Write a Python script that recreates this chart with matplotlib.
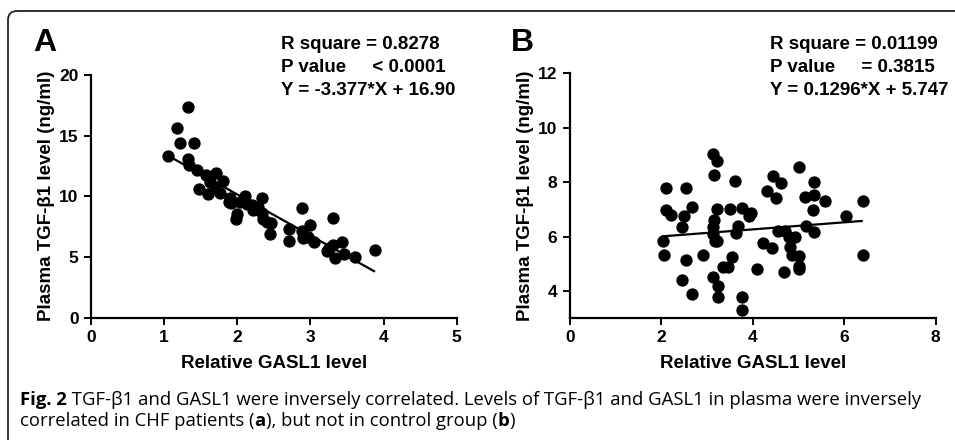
import numpy as np
import matplotlib
matplotlib.use("Agg")
from matplotlib import pyplot as plt
from matplotlib import font_manager
from matplotlib.patches import FancyBboxPatch
from matplotlib.transforms import IdentityTransform

# panel A: CHF patients
a_x = [1.32, 1.17, 1.216, 1.407, 1.052, 1.32, 1.338, 1.453, 1.571, 1.708,
       1.626, 1.808, 1.694, 1.48, 1.603, 1.762, 1.899, 2.104, 1.908, 2.036,
       2.34, 2.195, 2.218, 2.0, 1.977, 2.332, 2.355, 2.459, 2.445, 2.286,
       2.887, 2.71, 2.71, 2.992, 2.887, 2.90, 3.046, 2.968, 3.302, 3.434,
       3.31, 3.229, 3.333, 3.456, 3.607, 3.88, 3.26, 1.88, 2.13, 2.4]
a_y = [17.31, 15.59, 14.41, 14.41, 13.31, 13.03, 12.57, 12.16, 11.74, 11.88,
       11.2, 11.25, 10.78, 10.57, 10.15, 10.29, 9.82, 10.02, 9.47, 9.55,
       9.88, 9.28, 8.86, 8.53, 8.1, 8.59, 8.1, 7.77, 6.86, 9.1,
       9.0, 7.27, 6.34, 7.63, 7.16, 6.53, 6.26, 6.66, 8.18, 6.26,
       5.98, 5.49, 4.94, 5.24, 4.97, 5.57, 5.7, 9.55, 9.4, 7.9]

# panel B: control group
b_x = [3.12, 3.21, 3.16, 3.61, 2.10, 2.54, 2.11, 2.22, 2.49, 2.66,
       2.46, 2.03, 2.06, 2.53, 2.46, 2.66, 2.90, 3.21, 3.50, 3.76,
       3.16, 3.12, 3.12, 3.17, 3.22, 3.68, 3.63, 3.92, 3.97, 3.54,
       3.34, 3.46, 3.12, 3.23, 3.23, 3.77, 3.77, 4.08, 4.32, 4.45,
       4.61, 4.50, 4.23, 4.41, 4.54, 4.70, 4.78, 4.92, 4.81, 4.85,
       5.02, 5.0, 5.0, 4.68, 5.0, 5.34, 5.13, 5.34, 5.57, 5.32,
       5.16, 5.34, 6.03, 6.42, 6.42]
b_y = [9.04, 8.76, 8.28, 8.03, 7.78, 7.78, 6.96, 6.81, 6.77, 7.08,
       6.37, 5.85, 5.34, 5.14, 4.42, 3.89, 5.34, 7.02, 7.02, 7.05,
       6.61, 6.34, 6.10, 5.85, 5.83, 6.40, 6.13, 6.77, 6.87, 5.26,
       4.90, 4.90, 4.50, 4.17, 3.79, 3.79, 3.30, 4.81, 7.67, 8.21,
       7.97, 7.42, 5.75, 5.58, 6.22, 6.20, 5.98, 6.0, 5.61, 5.34,
       5.30, 4.93, 4.81, 4.69, 8.55, 8.02, 7.45, 7.54, 7.30, 6.98,
       6.38, 6.18, 6.77, 7.30, 5.34]

a_fit = (-3.377, 16.90)
b_fit = (0.1296, 5.747)
a_text = ["R square = 0.8278", "P value     < 0.0001", "Y = -3.377*X + 16.90"]
b_text = ["R square = 0.01199", "P value     = 0.3815", "Y = 0.1296*X + 5.747"]

# caption pieces: (text, bold)
cap_line1 = [("Fig. 2", True), (" TGF-β1 and GASL1 were inversely correlated. Levels of TGF-β1 and GASL1 in plasma were inversely", False)]
cap_line2 = [("correlated in CHF patients (", False), ("a", True), ("), but not in control group (", False), ("b", True), (")", False)]

installed = {f.name for f in font_manager.fontManager.ttflist}
fam = ["Liberation Sans Narrow"] if "Liberation Sans Narrow" in installed else []
fam = fam + ["Liberation Sans", "DejaVu Sans"]
plt.rcParams['font.family'] = fam

fig = plt.figure(figsize=(9.55, 4.40), dpi=100)

W, H = 955.0, 440.0


def panel(rect, xs, ys, fit, xlim, ylim, xticks, yticks, xfit):
	ax = fig.add_axes(rect)
	ax.scatter(xs, ys, s=62, color="black", zorder=3, clip_on=False)
	fx = np.array(xfit)
	ax.plot(fx, fit[0]*fx + fit[1], color="black", lw=1.6)
	ax.set_xlim(*xlim)
	ax.set_ylim(*ylim)
	ax.set_xticks(xticks)
	ax.set_yticks(yticks)
	for s in ["top", "right"]:
		ax.spines[s].set_visible(False)
	for s in ["left", "bottom"]:
		ax.spines[s].set_linewidth(1.6)
	ax.tick_params(width=1.4, length=5, labelsize=12.5, pad=4)
	for lab in ax.get_xticklabels() + ax.get_yticklabels():
		lab.set_fontweight("bold")
	ax.set_xlabel("Relative GASL1 level", fontsize=13.5, fontweight="bold", labelpad=7)
	ax.set_ylabel("Plasma TGF-β1 level (ng/ml)", fontsize=13.5, fontweight="bold", labelpad=3)
	return ax


axA = panel([91/W, 1-317.7/H, (456.7-91)/W, (317.7-74.8)/H], a_x, a_y, a_fit,
	(0, 5), (0, 20), [0, 1, 2, 3, 4, 5], [0, 5, 10, 15, 20], [1.1, 3.87])
axB = panel([570/W, 1-317.7/H, (935.7-570)/W, (317.7-73.3)/H], b_x, b_y, b_fit,
	(0, 8), (3.02, 12), [0, 2, 4, 6, 8], [4, 6, 8, 10, 12], [2.03, 6.38])

# panel letters and stats
fig.text(33/W, 1-51/H, "A", fontsize=23, fontweight="bold")
fig.text(511/W, 1-51/H, "B", fontsize=23, fontweight="bold")
for i in range(3):
	fig.text(280.7/W, 1-(49.3+23*i)/H, a_text[i], fontsize=13.5, fontweight="bold")
	fig.text(770/W, 1-(49.3+23*i)/H, b_text[i], fontsize=13.5, fontweight="bold")

# caption, pieces placed one after another
cap = ["Open Sans", "DejaVu Sans"]
r = fig.canvas.get_renderer()
for line, base in [(cap_line1, 405), (cap_line2, 426)]:
	x = 20.0
	for txt, bold in line:
		t = fig.text(x/W, 1-base/H, txt, fontsize=13.3, family=cap,
			fontweight="bold" if bold else "normal")
		x = t.get_window_extent(renderer=r).x1

# rounded frame around the figure
frame = FancyBboxPatch((8, -20), 980, 429+20, boxstyle="round,pad=0,rounding_size=9",
	transform=IdentityTransform(), fill=False, lw=1.3, ec="#222222")
fig.patches.append(frame)

fig.savefig("out.png", dpi=100)
